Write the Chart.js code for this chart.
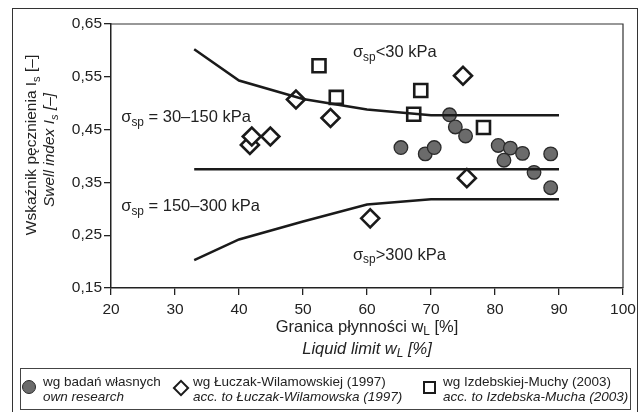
<!DOCTYPE html>
<html>
<head>
<meta charset="utf-8">
<script src="https://cdn.jsdelivr.net/npm/chart.js@4.4.1/dist/chart.umd.min.js"></script>
<style>
  body { margin: 0; background: #fff; }
  #wrap { position: relative; width: 643px; height: 412px; overflow: hidden; }
  #frame { position: absolute; left: 12px; top: 8px; width: 626px; height: 420px; border: 1.5px solid #333; box-sizing: border-box; }
  canvas { position: absolute; left: 0; top: 0; }
  #legend { position: absolute; left: 20px; top: 368px; width: 611px; height: 42px; border: 1px solid #444; box-sizing: border-box; }
  .item { position: absolute; font-family: 'Liberation Sans', Arial, sans-serif; font-size: 13.5px; line-height: 15px; color: #222; white-space: nowrap; }
  .item i { font-style: italic; }
  .mk { position: absolute; box-sizing: border-box; }
</style>
</head>
<body>
<div id="wrap">
  <div id="frame"></div>
  <canvas id="chart" width="643" height="412"></canvas>
  <div id="legend"></div>
</div>
<script>
// tick labels
const xTicks = [20, 30, 40, 50, 60, 70, 80, 90, 100];
const yTicks = [0.15, 0.25, 0.35, 0.45, 0.55, 0.65];

// own research (circles)
const ownX = [72.9, 73.8, 75.4, 65.3, 69.1, 70.5, 80.5, 82.4, 81.4, 84.3, 86.1, 88.7, 88.7];
const ownY = [0.478, 0.455, 0.438, 0.416, 0.404, 0.416, 0.420, 0.415, 0.392, 0.405, 0.369, 0.404, 0.340];

// Łuczak-Wilamowska 1997 (diamonds)
const lwX = [41.7, 42.0, 44.9, 48.9, 54.3, 75.0, 75.6, 60.5];
const lwY = [0.421, 0.437, 0.437, 0.507, 0.472, 0.552, 0.358, 0.282];

// Izdebska-Mucha 2003 (squares)
const imX = [52.5, 55.2, 68.4, 67.3, 78.2];
const imY = [0.571, 0.511, 0.524, 0.479, 0.454];

// boundary lines
const upperX = [33, 40, 50, 60, 70, 90];
const upperY = [0.602, 0.543, 0.508, 0.488, 0.477, 0.477];
const midX = [33, 90];
const midY = [0.375, 0.375];
const lowerX = [33, 40, 50, 60, 70, 90];
const lowerY = [0.203, 0.242, 0.276, 0.308, 0.318, 0.318];

const FONT = "'Liberation Sans', Arial, sans-serif";
const INK = '#222';

function pts(xs, ys) {
  return xs.map((x, i) => ({ x: x, y: ys[i] }));
}

function lineSet(xs, ys) {
  return {
    data: pts(xs, ys),
    showLine: true,
    borderColor: '#1a1a1a',
    borderWidth: 2.5,
    pointRadius: 0,
    fill: false
  };
}

// text with subscript parts
function richWidth(ctx, parts, size, italic) {
  let w = 0;
  parts.forEach(p => {
    ctx.font = (italic ? 'italic ' : '') + (p.sub ? size * 0.72 : size) + 'px ' + FONT;
    w += ctx.measureText(p.t).width;
  });
  return w;
}
function drawRich(ctx, parts, x, y, size, italic, align) {
  let w = richWidth(ctx, parts, size, italic);
  let cx = align === 'center' ? x - w / 2 : x;
  ctx.textAlign = 'left';
  ctx.textBaseline = 'middle';
  ctx.fillStyle = INK;
  parts.forEach(p => {
    let s = p.sub ? size * 0.72 : size;
    ctx.font = (italic ? 'italic ' : '') + s + 'px ' + FONT;
    ctx.fillText(p.t, cx, p.sub ? y + size * 0.3 : y);
    cx += ctx.measureText(p.t).width;
  });
}

const notes = [
  { x: 57.8, y: 0.596, parts: [{ t: 'σ' }, { t: 'sp', sub: true }, { t: '<30 kPa' }] },
  { x: 21.6, y: 0.473, parts: [{ t: 'σ' }, { t: 'sp', sub: true }, { t: ' = 30–150 kPa' }] },
  { x: 21.6, y: 0.304, parts: [{ t: 'σ' }, { t: 'sp', sub: true }, { t: ' = 150–300 kPa' }] },
  { x: 57.8, y: 0.212, parts: [{ t: 'σ' }, { t: 'sp', sub: true }, { t: '>300 kPa' }] }
];

const extras = {
  id: 'extras',
  afterDraw(chart) {
    const ctx = chart.ctx;
    const a = chart.chartArea;
    const sx = chart.scales.x, sy = chart.scales.y;
    ctx.save();
    // top and right frame of the plot
    ctx.strokeStyle = '#333';
    ctx.lineWidth = 1.2;
    ctx.beginPath();
    ctx.moveTo(a.left, a.top);
    ctx.lineTo(a.right, a.top);
    ctx.lineTo(a.right, a.bottom);
    ctx.stroke();

    notes.forEach(n => {
      drawRich(ctx, n.parts, sx.getPixelForValue(n.x), sy.getPixelForValue(n.y), 16.5, false, 'left');
    });

    // x axis titles
    const mx = (a.left + a.right) / 2;
    drawRich(ctx, [{ t: 'Granica płynności w' }, { t: 'L', sub: true }, { t: ' [%]' }], mx, 327, 16.5, false, 'center');
    drawRich(ctx, [{ t: 'Liquid limit w' }, { t: 'L', sub: true }, { t: ' [%]' }], mx, 349, 16.5, true, 'center');

    // y axis titles
    ctx.translate(32, 0);
    ctx.rotate(-Math.PI / 2);
    drawRich(ctx, [{ t: 'Wskaźnik pęcznienia I' }, { t: 's', sub: true }, { t: ' [–]' }], -145, 0, 15.5, false, 'center');
    drawRich(ctx, [{ t: 'Swell index I' }, { t: 's', sub: true }, { t: ' [–]' }], -150, 18, 15.5, true, 'center');
    ctx.restore();
  }
};

const ctx = document.getElementById('chart').getContext('2d');
const chart = new Chart(ctx, {
  type: 'scatter',
  data: {
    datasets: [
      lineSet(upperX, upperY),
      lineSet(midX, midY),
      lineSet(lowerX, lowerY),
      {
        data: pts(ownX, ownY),
        pointStyle: 'circle',
        pointRadius: 6.8,
        backgroundColor: '#6b6b6b',
        borderColor: '#2a2a2a',
        borderWidth: 1.3
      },
      {
        data: pts(lwX, lwY),
        pointStyle: 'rectRot',
        pointRadius: 9,
        backgroundColor: '#fff',
        borderColor: '#1a1a1a',
        borderWidth: 2.6
      },
      {
        data: pts(imX, imY),
        pointStyle: 'rect',
        pointRadius: 9.2,
        backgroundColor: '#fff',
        borderColor: '#1a1a1a',
        borderWidth: 2.6
      }
    ]
  },
  options: {
    responsive: false,
    animation: false,
    layout: { padding: { left: 0, top: 24, right: 20, bottom: 0 } },
    plugins: { legend: { display: false }, tooltip: { enabled: false } },
    scales: {
      x: {
        type: 'linear',
        min: 20,
        max: 100,
        afterBuildTicks: s => { s.ticks = xTicks.map(v => ({ value: v })); },
        afterFit: s => { s.height = 124; },
        grid: { drawOnChartArea: false, drawTicks: true, tickLength: 7, color: '#222', lineWidth: 1.3 },
        border: { color: '#222', width: 1.5 },
        ticks: { color: INK, font: { family: FONT, size: 15.5 }, padding: 5, maxRotation: 0 }
      },
      y: {
        min: 0.15,
        max: 0.65,
        afterBuildTicks: s => { s.ticks = yTicks.map(v => ({ value: v })); },
        afterFit: s => { s.width = 111; },
        grid: { drawOnChartArea: false, drawTicks: true, tickLength: 7, color: '#222', lineWidth: 1.3 },
        border: { color: '#222', width: 1.5 },
        ticks: {
          color: INK,
          font: { family: FONT, size: 15.5 },
          padding: 2,
          callback: v => v.toFixed(2).replace('.', ',')
        }
      }
    }
  },
  plugins: [extras]
});

// legend in html
const legendItems = [
  { mk: 'circle', x: 8, l1: 'wg badań własnych', l2: 'own research', tx: 22 },
  { mk: 'diamond', x: 160, l1: 'wg Łuczak-Wilamowskiej (1997)', l2: 'acc. to Łuczak-Wilamowska (1997)', tx: 172 },
  { mk: 'square', x: 408, l1: 'wg Izdebskiej-Muchy (2003)', l2: 'acc. to Izdebska-Mucha (2003)', tx: 422 }
];
const lg = document.getElementById('legend');
legendItems.forEach(it => {
  const m = document.createElement('div');
  m.className = 'mk';
  if (it.mk === 'circle') {
    Object.assign(m.style, { left: (it.x - 7) + 'px', top: '11px', width: '14px', height: '14px', borderRadius: '50%', background: '#6b6b6b', border: '1.3px solid #2a2a2a' });
  } else if (it.mk === 'diamond') {
    Object.assign(m.style, { left: (it.x - 6) + 'px', top: '13px', width: '12px', height: '12px', transform: 'rotate(45deg)', background: '#fff', border: '2.6px solid #1a1a1a' });
  } else {
    Object.assign(m.style, { left: (it.x - 6.5) + 'px', top: '12px', width: '13px', height: '13px', background: '#fff', border: '2.6px solid #1a1a1a' });
  }
  lg.appendChild(m);
  const t = document.createElement('div');
  t.className = 'item';
  t.style.left = it.tx + 'px';
  t.style.top = '5px';
  t.innerHTML = it.l1 + '<br><i>' + it.l2 + '</i>';
  lg.appendChild(t);
});
</script>
</body>
</html>
